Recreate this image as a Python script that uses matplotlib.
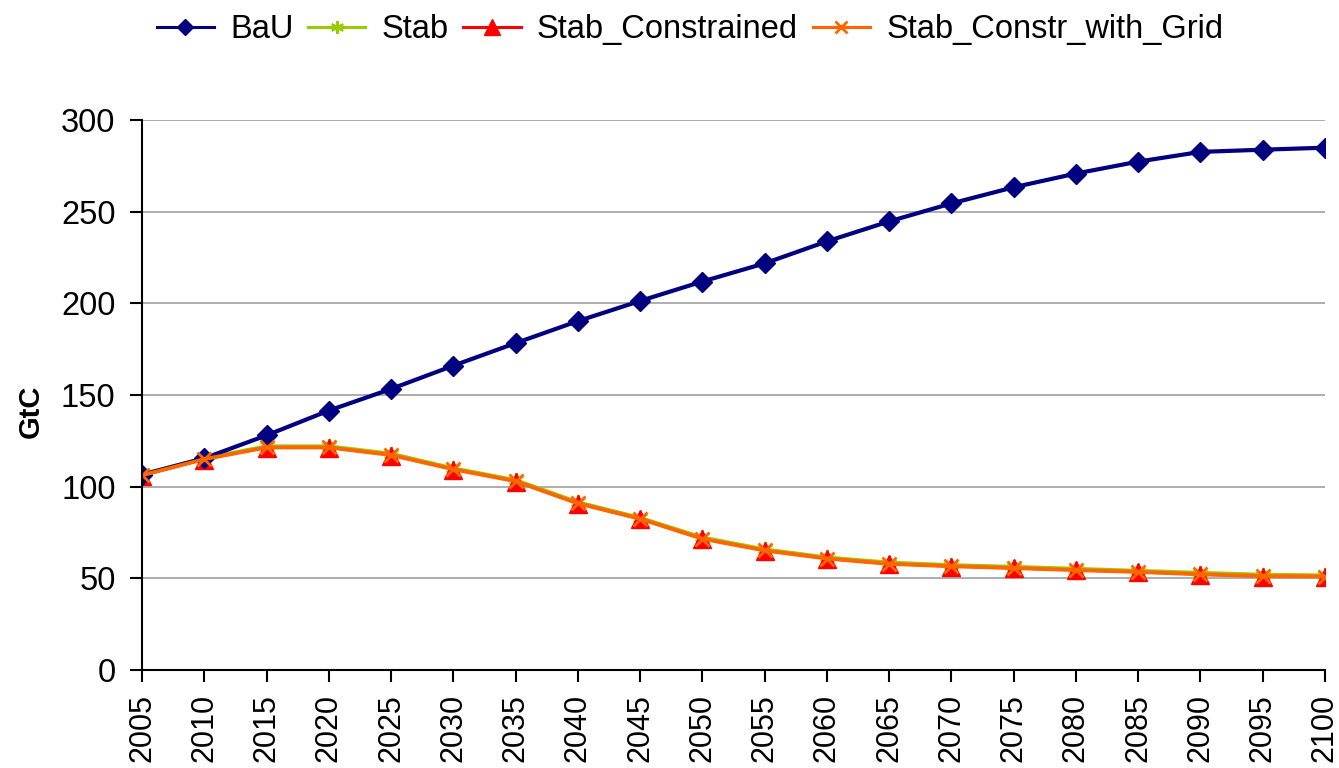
import matplotlib
matplotlib.use("Agg")
import matplotlib.pyplot as plt

years = [2005, 2010, 2015, 2020, 2025, 2030, 2035, 2040, 2045, 2050,
         2055, 2060, 2065, 2070, 2075, 2080, 2085, 2090, 2095, 2100]
bau = [106.5, 115.5, 128.0, 141.5, 153.3, 166.0, 178.3, 190.3, 201.3, 211.9,
       221.8, 233.8, 244.7, 254.5, 263.3, 270.8, 277.3, 282.6, 283.8, 284.9]
stab = [106.8, 115.5, 122.0, 122.0, 118.0, 110.0, 103.6, 91.5, 83.0, 72.3,
        65.8, 61.4, 58.6, 57.2, 56.3, 55.2, 54.1, 53.0, 52.0, 51.6]
stab_constrained = [106.0, 114.8, 121.2, 121.2, 117.0, 109.3, 102.8, 90.6, 82.2, 71.4,
                    65.0, 60.6, 57.7, 56.4, 55.4, 54.3, 53.3, 52.0, 51.0, 50.8]
stab_grid = [106.2, 115.0, 121.4, 121.4, 117.3, 109.5, 103.0, 90.9, 82.5, 71.6,
             65.2, 60.8, 57.9, 56.6, 55.6, 54.5, 53.5, 52.2, 51.2, 51.0]
yticks = [0, 50, 100, 150, 200, 250, 300]

plt.rcParams['font.family'] = ['Liberation Sans', 'DejaVu Sans']

fig = plt.figure(figsize=(13.39, 7.68), dpi=100)
ax = fig.add_axes([142/1339, 1 - 670/768, (1325 - 142)/1339, (670 - 120)/768])

ax.plot(years, bau, color='#000080', lw=3.0, marker='D', ms=10, label='BaU', zorder=5)
ax.plot(years, stab, color='#99CC00', lw=2.8, marker=(6, 2, 0), ms=11, mew=1.5,
        label='Stab', zorder=3)
ax.plot(years, stab_constrained, color='#FF0000', lw=1.5, marker='^', ms=13.5,
        label='Stab_Constrained', zorder=4)
ax.plot(years, stab_grid, color='#FF6600', lw=2.8, marker='x', ms=10.5, mew=2.0,
        label='Stab_Constr_with_Grid', zorder=6)

ax.set_xlim(2005, 2100)
ax.set_ylim(0, 300)
ax.set_xticks(years)
ax.set_xticklabels([str(y) for y in years], rotation=90, fontsize=22)
ax.set_yticks(yticks)
ax.set_yticklabels([str(v) for v in yticks], fontsize=23.5)
ax.tick_params(axis='both', direction='out', length=8.5, width=1.5, colors='black')
ax.tick_params(axis='y', pad=10.5)
ax.tick_params(axis='x', pad=9)
ax.set_ylabel('GtC', fontsize=21, fontweight='bold')
ax.yaxis.set_label_coords(-(142 - 45) / 1183, 0.47)

ax.grid(axis='y', color='#a0a0a0', lw=1.2)
ax.set_axisbelow(True)
for s in ['top', 'right']:
    ax.spines[s].set_visible(False)
for s in ['left', 'bottom']:
    ax.spines[s].set_linewidth(1.5)
    ax.spines[s].set_color('black')
ax.spines['left'].set_zorder(7)

leg = fig.legend(loc='upper center', bbox_to_anchor=(690/1339, 1.02), ncol=4, frameon=False,
                 fontsize=23.5, handlelength=1.75, columnspacing=0.45, handletextpad=0.5,
                 markerscale=0.85)
for line in leg.get_lines():
    line.set_linewidth(2.2)

fig.savefig('out.png', dpi=100)
